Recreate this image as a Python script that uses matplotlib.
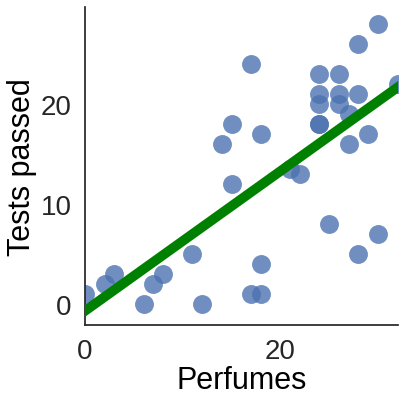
import matplotlib
matplotlib.use("Agg")
import matplotlib.pyplot as plt
import numpy as np

# perfumes vs tests passed
perfumes = [30, 28, 17, 24, 26, 24, 26, 28, 24, 26, 27, 24, 24, 32, 15, 18, 14, 27,
            29, 21, 22, 15, 25, 30, 28, 18, 11, 8, 7, 3, 2, 0, 6, 12, 17, 18]
tests = [28, 26, 24, 23, 23, 21, 21, 21, 20, 20, 19, 18, 18, 22, 18, 17, 16, 16,
         17, 13.5, 13, 12, 8, 7, 5, 4, 5, 3, 2, 3, 2, 1, 0, 0, 1, 1]

x = np.array(perfumes, dtype=float)
y = np.array(tests, dtype=float)
slope, icpt = np.polyfit(x, y, 1)

plt.rcParams['font.family'] = ['Liberation Sans', 'DejaVu Sans']
plt.rcParams['text.color'] = '.15'
plt.rcParams['xtick.color'] = '.15'
plt.rcParams['ytick.color'] = '.15'

fig = plt.figure(figsize=(4.07, 4.06), dpi=100)
ax = fig.add_axes([0.209, 0.198, 0.769, 0.782])

ax.scatter(x, y, s=185, color='#4C72B0', alpha=0.8, linewidths=0, zorder=2)
xl = np.array([0, 32.05])
ax.plot(xl, icpt + slope*xl, color='green', lw=7, zorder=3)

ax.set_xlim(0, 32.05)
ax.set_ylim(-2.07, 29.7)
ax.set_xticks([0, 20])
ax.set_yticks([0, 10, 20])
ax.tick_params(labelsize=20, length=0, pad=9.5)
ax.set_xlabel("Perfumes", fontsize=22, labelpad=1)
ax.set_ylabel("Tests passed", fontsize=22, labelpad=3)

for s in ['top', 'right']:
    ax.spines[s].set_visible(False)
for s in ['left', 'bottom']:
    ax.spines[s].set_color('.15')
    ax.spines[s].set_linewidth(1.25)

fig.savefig("out.png", dpi=100)
